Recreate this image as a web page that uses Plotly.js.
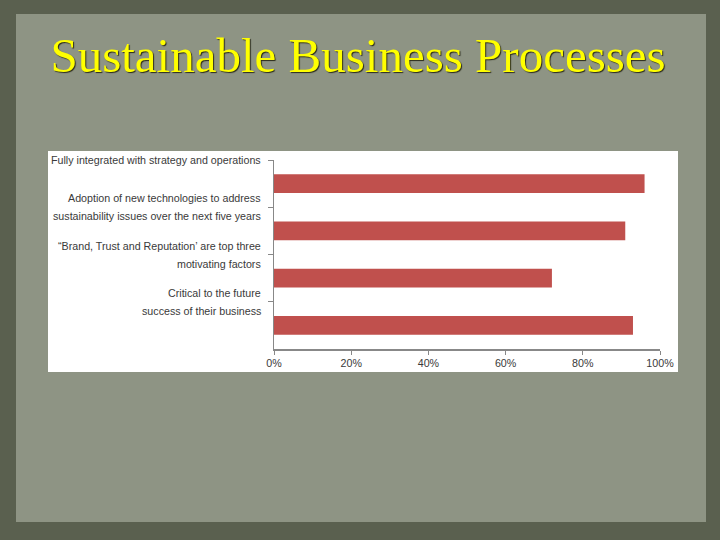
<!DOCTYPE html>
<html>
<head>
<meta charset="utf-8">
<script src="https://cdn.plot.ly/plotly-3.0.1.min.js"></script>
<style>html,body{margin:0;padding:0;background:#5a604f;}#chart{width:720px;height:540px;}</style>
</head>
<body>
<div id="chart"></div>
<script>
const categories = [
  "Fully integrated with strategy and operations",
  "Adoption of new technologies to address<br>sustainability issues over the next five years",
  "\u201cBrand, Trust and Reputation\u2019 are top three<br>motivating factors",
  "Critical to the future<br>success of their business"
];
const barKeys = ["bar1", "bar2", "bar3", "bar4"];
const values = [96, 91, 72, 93];
const tickVals = [0, 20, 40, 60, 80, 100];
const tickText = ["0%", "20%", "40%", "60%", "80%", "100%"];
const chartTitle = "Sustainable Business Processes";

const W = 720, H = 540;
const px = x => x / W;
const py = y => 1 - y / H;
const labelFont = {family: "'Liberation Sans Narrow', 'Arial Narrow', 'Liberation Sans', sans-serif", size: 10.7, color: "#3a3a3a"};

const trace = {
  type: "bar",
  orientation: "h",
  y: barKeys,
  x: values,
  marker: {color: "#c0504d"},
  width: 0.4,
  hoverinfo: "none"
};

const annotations = [];
categories.forEach((c, i) => {
  const lines = c.split("<br>");
  const n = lines.length;
  lines.forEach((ln, j) => {
    annotations.push({
      xref: "paper", yref: "y",
      x: px(263), y: i - 0.5,
      yshift: -((j - (n - 1) / 2) * 18),
      xanchor: "right", yanchor: "middle",
      text: ln, showarrow: false, align: "right",
      font: labelFont
    });
  });
});

const layout = {
  width: W, height: H,
  margin: {l: 0, r: 0, t: 0, b: 0},
  paper_bgcolor: "#5a604f",
  plot_bgcolor: "#ffffff",
  showlegend: false,
  title: {
    text: chartTitle,
    x: px(358), xanchor: "center",
    y: py(55), yanchor: "middle",
    font: {family: "'Liberation Serif', 'DejaVu Serif', serif", size: 49, color: "#ffff00", shadow: "1px 1px 1px #2a2a1a"}
  },
  xaxis: {
    domain: [px(274), px(660)],
    range: [0, 100],
    tickvals: tickVals, ticktext: tickText,
    ticks: "outside", ticklen: 4, tickcolor: "#888",
    showline: true, linecolor: "#888", linewidth: 1.5,
    showgrid: false, zeroline: false,
    tickfont: labelFont,
    fixedrange: true
  },
  yaxis: {
    domain: [py(349), py(160)],
    type: "category",
    autorange: false, range: [3.5, -0.5],
    categoryorder: "array", categoryarray: barKeys,
    showticklabels: false,
    ticks: "outside", ticklen: 5, tickcolor: "#888", tickson: "boundaries",
    showline: true, linecolor: "#888", linewidth: 1.5,
    showgrid: false, zeroline: false,
    fixedrange: true
  },
  shapes: [
    {type: "rect", xref: "paper", yref: "paper", x0: px(16), x1: px(706), y0: py(522), y1: py(14),
     fillcolor: "#8e9484", line: {width: 0}, layer: "below"},
    {type: "rect", xref: "paper", yref: "paper", x0: px(48), x1: px(678), y0: py(372), y1: py(151),
     fillcolor: "#ffffff", line: {width: 0}, layer: "below"}
  ],
  annotations: annotations
};

Plotly.newPlot("chart", [trace], layout, {displayModeBar: false, staticPlot: true});
</script>
</body>
</html>
